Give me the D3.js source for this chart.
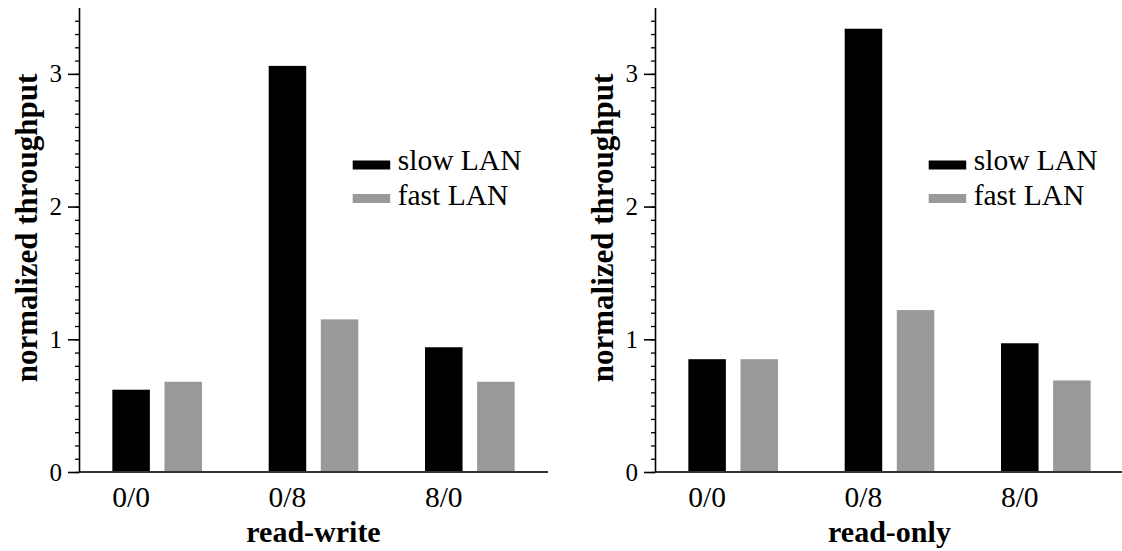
<!DOCTYPE html>
<html>
<head>
<meta charset="utf-8">
<script src="https://cdn.jsdelivr.net/npm/d3@7"></script>
<style>
  html, body { margin: 0; padding: 0; background: #fff; }
  svg { display: block; }
  svg text { font-family: "Liberation Serif", "Times New Roman", serif; fill: #000; }
</style>
</head>
<body>
<svg id="chart" width="1122" height="551"></svg>
<script>
// ---- data ----
const categories = ["0/0", "0/8", "8/0"];
const seriesNames = ["slow LAN", "fast LAN"];
const seriesColors = ["#000000", "#999999"];
const panelTitles = ["read-write", "read-only"];
const readWriteSlow = [0.62, 3.06, 0.94];
const readWriteFast = [0.68, 1.15, 0.68];
const readOnlySlow = [0.85, 3.34, 0.97];
const readOnlyFast = [0.85, 1.22, 0.69];
const yMajorTicks = [0, 1, 2, 3];
const yTitle = "normalized throughput";

const panels = [
  { title: panelTitles[0], values: [readWriteSlow, readWriteFast], left: 79 },
  { title: panelTitles[1], values: [readOnlySlow, readOnlyFast], left: 655 }
];

const FONT = '"Liberation Serif", "Times New Roman", serif';
const svg = d3.select("#chart");
const plotTop = 7.5, base = 472, axisLen = 469;

const y = d3.scaleLinear().domain([0, 3.5]).range([base - plotTop, 0]);
const x0 = d3.scaleBand().domain(categories).range([0, axisLen]).padding(0);
const x1 = d3.scaleBand().domain(seriesNames).range([0, x0.bandwidth()])
  .paddingInner(0.28).paddingOuter(0.64);
const minorTicks = d3.range(0, 35).map(i => i / 10);

panels.forEach(p => {
  const g = svg.append("g").attr("transform", `translate(${p.left},${plotTop})`)
    .style("font-family", FONT);

  // bars
  seriesNames.forEach((s, si) => {
    g.selectAll(null)
      .data(categories.map((c, ci) => ({ c, v: p.values[si][ci] })))
      .enter().append("rect")
      .attr("x", d => x0(d.c) + x1(s))
      .attr("width", x1.bandwidth())
      .attr("y", d => y(d.v))
      .attr("height", d => y(0) - y(d.v))
      .attr("fill", seriesColors[si]);
  });

  // baseline
  g.append("line")
    .attr("x1", 0).attr("x2", axisLen)
    .attr("y1", y(0)).attr("y2", y(0))
    .attr("stroke", "#333").attr("stroke-width", 2);

  // minor ticks
  const minor = g.append("g").call(
    d3.axisLeft(y).tickValues(minorTicks).tickSize(4).tickSizeOuter(0).tickFormat(""));
  minor.select(".domain").remove();
  minor.selectAll("line").attr("stroke", "#000").attr("stroke-width", 1.3);

  // major axis
  const major = g.append("g").call(
    d3.axisLeft(y).tickValues(yMajorTicks).tickSize(11).tickSizeOuter(0).tickPadding(6).tickFormat(d3.format("d")));
  major.attr("font-family", null).style("font-family", FONT);
  major.select(".domain").attr("stroke", "#000").attr("stroke-width", 1.6);
  major.selectAll(".tick line").attr("stroke", "#000").attr("stroke-width", 1.6);
  major.selectAll(".tick text")
    .style("font-family", FONT)
    .attr("font-size", 25).attr("fill", "#000");

  // category labels
  g.selectAll(null).data(categories).enter().append("text")
    .attr("x", c => x0(c) + x1(seriesNames[0]) + x1.bandwidth() / 2)
    .attr("y", 507 - plotTop)
    .attr("text-anchor", "middle")
    .attr("font-size", 29.5)
    .style("font-family", FONT)
    .text(c => c);

  // x title
  g.append("text")
    .attr("x", axisLen / 2).attr("y", 542 - plotTop)
    .attr("text-anchor", "middle")
    .attr("font-size", 30).attr("font-weight", "bold")
    .style("font-family", FONT)
    .text(p.title);

  // y title
  g.append("text")
    .attr("transform", `translate(${36.5 - 79},${228 - plotTop}) rotate(-90)`)
    .attr("text-anchor", "middle")
    .attr("font-size", 31).attr("font-weight", "bold")
    .style("font-family", FONT)
    .text(yTitle);

  // legend
  const leg = g.append("g").attr("transform", `translate(${273.7},0)`);
  const legRows = [{ y: 160.5 - plotTop, ty: 170 - plotTop }, { y: 194 - plotTop, ty: 205 - plotTop }];
  seriesNames.forEach((s, si) => {
    leg.append("rect").attr("x", 0).attr("y", legRows[si].y)
      .attr("width", 37.5).attr("height", 9).attr("fill", seriesColors[si]);
    leg.append("text").attr("x", 45).attr("y", legRows[si].ty)
      .attr("font-size", 29.5)
      .style("font-family", FONT)
      .text(s);
  });
});
</script>
</body>
</html>
